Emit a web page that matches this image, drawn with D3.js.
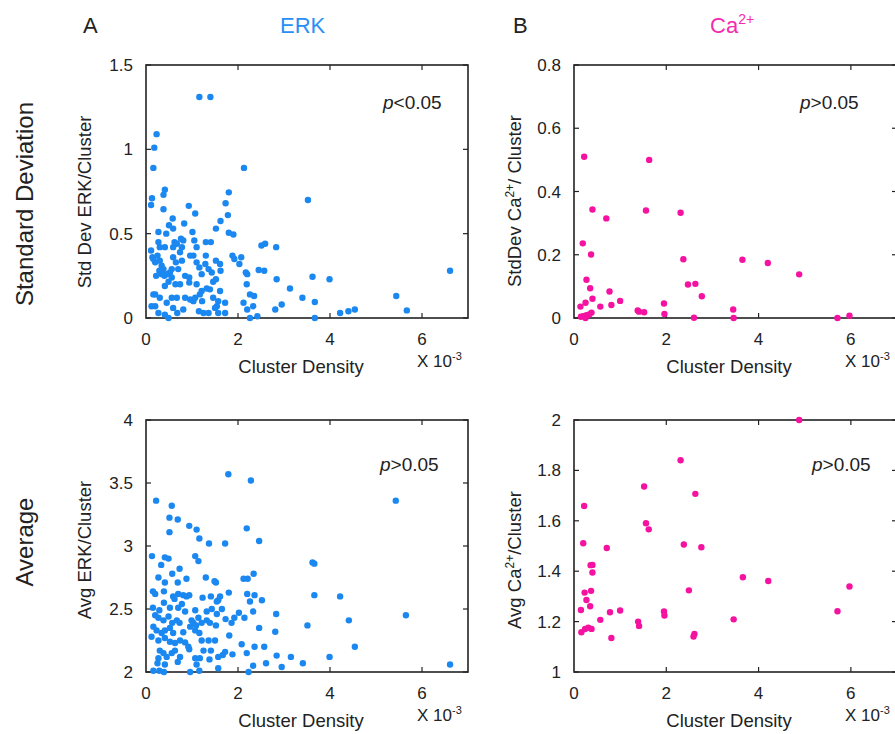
<!DOCTYPE html>
<html>
<head>
<meta charset="utf-8">
<script src="https://cdn.jsdelivr.net/npm/d3@7"></script>
<style>
  html, body { margin: 0; padding: 0; background: #fff; }
  svg { display: block; }
  text { font-family: "Liberation Sans", Arial, sans-serif; fill: #222; }
</style>
</head>
<body>
<svg id="chart" width="895" height="734"></svg>
<script>
// ---------------- DATA ----------------
const xTicks = [0, 2, 4, 6];
const erkStdTicks = [0, 0.5, 1, 1.5];
const erkAvgTicks = [2, 2.5, 3, 3.5, 4];
const caStdTicks = [0, 0.2, 0.4, 0.6, 0.8];
const caAvgTicks = [1, 1.2, 1.4, 1.6, 1.8, 2];

// ERK standard deviation per cluster (x: cluster density ×10^-3)
const erkStdX = [1.16,1.40,0.23,0.18,0.16,2.13,3.52,1.80,0.41,0.38,0.13,0.11,1.73,0.38,0.93,1.07,1.78,0.58,1.62,0.50,
  0.83,0.59,1.52,0.27,0.44,1.01,1.80,1.90,0.62,0.67,0.76,0.81,0.27,0.30,0.41,0.59,0.78,1.05,1.10,1.30,
  1.41,0.11,0.14,0.16,0.20,0.25,0.30,0.34,0.29,0.38,0.34,0.45,0.52,0.56,0.59,0.65,0.70,0.74,0.78,0.96,
  1.03,1.10,1.16,1.21,1.30,1.29,1.36,1.43,1.52,1.61,1.62,1.46,1.52,1.32,1.21,1.10,0.94,0.94,0.85,0.74,
  0.64,0.56,0.49,0.41,0.22,0.40,1.88,1.92,2.07,2.03,2.17,2.20,2.19,2.45,2.57,2.51,2.59,2.83,2.84,3.13,
  3.40,3.62,3.99,3.67,2.95,2.81,2.26,2.35,2.12,2.20,2.33,2.26,2.42,3.67,4.22,4.40,4.54,5.44,5.67,6.61,
  0.16,0.20,0.30,0.12,0.20,0.27,0.41,0.49,0.56,0.45,0.67,0.59,0.68,0.81,0.85,0.96,1.03,1.07,1.17,1.15,
  1.25,1.36,1.22,1.39,1.46,1.57,1.54,1.61,1.72,1.72,1.57,1.50];
const erkStdY = [1.31,1.31,1.09,1.01,0.89,0.89,0.70,0.745,0.76,0.73,0.71,0.67,0.68,0.645,0.665,0.62,0.61,0.59,0.575,0.55,
  0.56,0.53,0.53,0.51,0.50,0.51,0.505,0.495,0.45,0.44,0.47,0.46,0.45,0.42,0.42,0.42,0.42,0.46,0.42,0.45,
  0.45,0.40,0.36,0.35,0.33,0.37,0.34,0.31,0.28,0.29,0.26,0.26,0.27,0.29,0.36,0.33,0.29,0.39,0.34,0.37,
  0.37,0.33,0.30,0.26,0.37,0.32,0.29,0.27,0.34,0.32,0.28,0.215,0.23,0.175,0.16,0.20,0.24,0.21,0.25,0.20,
  0.20,0.24,0.215,0.19,0.25,0.25,0.37,0.35,0.36,0.32,0.27,0.26,0.20,0.285,0.28,0.43,0.44,0.42,0.23,0.175,
  0.12,0.245,0.23,0.095,0.08,0.05,0.14,0.13,0.09,0.05,0.07,0.00,0.01,0.00,0.03,0.04,0.05,0.13,0.045,0.28,
  0.14,0.14,0.12,0.07,0.07,0.03,0.02,0.00,0.12,0.09,0.12,0.06,0.03,0.05,0.12,0.11,0.10,0.12,0.14,0.04,
  0.03,0.03,0.10,0.17,0.12,0.10,0.07,0.16,0.09,0.03,0.03,0.06];

// ERK average per cluster
const erkAvgX = [1.79,2.28,0.22,5.43,0.56,0.51,0.69,2.19,0.94,1.10,0.51,1.16,2.46,1.37,1.72,0.13,1.07,0.41,0.49,1.14,
  0.33,3.62,3.66,0.73,0.57,0.27,0.88,1.30,2.34,2.12,2.21,0.41,0.69,1.49,1.52,0.15,0.20,0.39,0.59,0.70,
  0.81,0.88,0.94,1.23,1.41,1.54,1.61,1.57,1.80,2.20,2.36,2.26,2.52,3.66,4.22,0.39,0.62,0.78,0.15,0.29,
  0.52,0.70,0.85,1.07,1.32,1.43,1.65,1.54,2.02,2.14,2.33,2.83,5.65,0.20,0.27,0.38,0.49,0.57,0.67,0.73,
  0.99,1.03,1.09,1.14,1.21,1.32,1.39,1.52,1.73,1.92,1.86,4.41,0.16,0.23,0.34,0.41,0.52,0.59,0.81,0.96,
  1.07,1.16,2.46,2.81,3.51,0.12,0.27,0.41,0.52,0.63,0.74,0.85,0.92,1.21,1.36,1.50,1.81,2.08,2.36,2.57,
  4.54,0.30,0.38,0.45,0.56,0.63,0.74,0.94,1.25,1.41,1.57,1.67,1.72,1.88,2.19,2.84,3.15,3.41,3.99,0.27,
  0.25,0.41,0.69,1.07,1.17,1.38,1.10,2.33,2.61,2.95,6.61,0.16,0.29,0.39,0.96,1.16,1.57,2.23];
const erkAvgY = [3.57,3.52,3.36,3.36,3.32,3.225,3.21,3.14,3.16,3.13,3.11,3.06,3.04,3.02,3.02,2.92,2.92,2.91,2.90,2.88,
  2.85,2.87,2.86,2.82,2.78,2.75,2.74,2.75,2.78,2.74,2.74,2.71,2.71,2.72,2.71,2.64,2.62,2.64,2.60,2.62,
  2.61,2.60,2.61,2.59,2.60,2.56,2.60,2.57,2.63,2.62,2.61,2.56,2.57,2.61,2.60,2.55,2.58,2.54,2.51,2.49,
  2.51,2.51,2.48,2.49,2.48,2.50,2.50,2.46,2.47,2.43,2.48,2.46,2.45,2.45,2.43,2.41,2.44,2.39,2.41,2.39,
  2.41,2.39,2.37,2.43,2.39,2.41,2.39,2.37,2.42,2.43,2.39,2.41,2.36,2.33,2.31,2.33,2.35,2.31,2.315,2.36,
  2.33,2.31,2.35,2.32,2.37,2.28,2.25,2.27,2.24,2.23,2.25,2.235,2.20,2.25,2.25,2.25,2.29,2.22,2.20,2.20,
  2.20,2.17,2.15,2.12,2.15,2.17,2.12,2.18,2.17,2.17,2.12,2.135,2.16,2.14,2.15,2.13,2.12,2.07,2.12,2.11,
  2.07,2.06,2.08,2.11,2.11,2.10,2.06,2.05,2.07,2.04,2.06,2.01,2.01,2.00,2.00,2.01,2.03,2.00];

// Ca2+ standard deviation per cluster
const caStdX = [0.22,1.63,0.40,1.56,2.31,0.70,0.19,0.37,2.37,3.65,4.20,4.88,0.27,0.35,0.77,2.47,2.63,2.77,0.40,1.00,
  0.81,0.57,0.25,0.14,1.95,1.38,1.41,1.52,1.96,3.45,0.38,0.33,0.27,0.20,0.15,0.25,2.60,3.46,5.71,5.97];
const caStdY = [0.51,0.50,0.343,0.34,0.333,0.315,0.236,0.201,0.186,0.184,0.174,0.138,0.121,0.094,0.084,0.106,0.108,0.069,0.061,0.054,
  0.041,0.036,0.048,0.036,0.046,0.024,0.020,0.018,0.013,0.027,0.017,0.011,0.009,0.006,0.004,0.0,0.001,0.0,0.0,0.007];

// Ca2+ average per cluster
const caAvgX = [4.88,2.31,1.52,2.63,0.22,1.56,1.62,0.20,2.38,2.76,0.71,0.36,0.40,0.40,3.66,4.21,5.97,2.49,0.37,0.23,
  0.27,0.35,0.15,1.00,0.78,1.95,1.96,5.71,0.57,1.39,1.41,3.46,0.16,0.24,0.31,0.38,0.81,2.61,2.59];
const caAvgY = [2.0,1.84,1.736,1.707,1.659,1.59,1.566,1.511,1.506,1.495,1.492,1.424,1.425,1.395,1.376,1.361,1.339,1.324,1.322,1.315,
  1.286,1.261,1.246,1.244,1.237,1.24,1.224,1.241,1.207,1.20,1.183,1.209,1.158,1.171,1.176,1.171,1.135,1.151,1.141];

// ---------------- DRAW ----------------
const ERK_COLOR = "#1a88f0";
const CA_COLOR = "#f512a0";
const svg = d3.select("#chart");

const colA = [146, 468];
const colB = [574, 897];
const rowTop = [318, 65];
const rowBot = [672, 420];

const panels = [
  { xs: erkStdX, ys: erkStdY, yDom: [0, 1.5], yTicks: erkStdTicks, xr: colA, yr: rowTop, color: ERK_COLOR,
    p: "<0.05", px: 383, py: 109, ylab: ["Std Dev ERK/Cluster"], ylx: 91, yly: 202 },
  { xs: caStdX, ys: caStdY, yDom: [0, 0.8], yTicks: caStdTicks, xr: colB, yr: rowTop, color: CA_COLOR,
    p: ">0.05", px: 800, py: 109, ylab: ["StdDev Ca", "2+", "/ Cluster"], ylx: 521, yly: 201 },
  { xs: erkAvgX, ys: erkAvgY, yDom: [2, 4], yTicks: erkAvgTicks, xr: colA, yr: rowBot, color: ERK_COLOR,
    p: ">0.05", px: 380, py: 471, ylab: ["Avg ERK/Cluster"], ylx: 91, yly: 550 },
  { xs: caAvgX, ys: caAvgY, yDom: [1, 2], yTicks: caAvgTicks, xr: colB, yr: rowBot, color: CA_COLOR,
    p: ">0.05", px: 812, py: 471, ylab: ["Avg Ca", "2+", "/Cluster"], ylx: 521, yly: 560 }
];

panels.forEach(pn => {
  const x = d3.scaleLinear().domain([0, 7]).range(pn.xr);
  const y = d3.scaleLinear().domain(pn.yDom).range(pn.yr);
  const g = svg.append("g");
  const x0 = pn.xr[0], x1 = pn.xr[1], yb = pn.yr[0], yt = pn.yr[1];

  // ticks (inward, all four sides)
  const tk = g.append("g").attr("stroke", "#222").attr("stroke-width", 1.2);
  xTicks.forEach(t => {
    if (t === 0) return;
    tk.append("line").attr("x1", x(t)).attr("x2", x(t)).attr("y1", yb).attr("y2", yb - 5);
    tk.append("line").attr("x1", x(t)).attr("x2", x(t)).attr("y1", yt).attr("y2", yt + 5);
  });
  pn.yTicks.forEach(t => {
    tk.append("line").attr("x1", x0).attr("x2", x0 + 5).attr("y1", y(t)).attr("y2", y(t));
    tk.append("line").attr("x1", x1).attr("x2", x1 - 5).attr("y1", y(t)).attr("y2", y(t));
  });
  // box
  g.append("rect").attr("x", x0).attr("y", yt).attr("width", x1 - x0).attr("height", yb - yt)
    .attr("fill", "none").attr("stroke", "#222").attr("stroke-width", 1.6);

  // tick labels
  g.selectAll(".xl").data(xTicks).enter().append("text")
    .attr("x", d => x(d)).attr("y", yb + 27).attr("text-anchor", "middle")
    .attr("font-size", 17).text(d => d);
  g.selectAll(".yl").data(pn.yTicks).enter().append("text")
    .attr("x", x0 - 13).attr("y", d => y(d) + 6).attr("text-anchor", "end")
    .attr("font-size", 17).text(d => d);

  // points
  g.selectAll("circle").data(pn.xs.map((v, i) => [v, pn.ys[i]])).enter().append("circle")
    .attr("cx", d => x(d[0])).attr("cy", d => y(d[1])).attr("r", 3.2).attr("fill", pn.color);

  // p value
  const pt = g.append("text").attr("x", pn.px).attr("y", pn.py).attr("font-size", 19);
  pt.append("tspan").attr("font-style", "italic").text("p");
  pt.append("tspan").text(pn.p);

  // x-axis label
  g.append("text").attr("x", x0 + 155).attr("y", yb + 55).attr("text-anchor", "middle")
    .attr("font-size", 18.5).text("Cluster Density");
  const xe = g.append("text").attr("x", x0 + 271).attr("y", yb + 49).attr("font-size", 17);
  xe.append("tspan").text("X 10");
  xe.append("tspan").attr("font-size", 11).attr("dy", -7).text("-3");

  // y-axis label
  const yl = g.append("text").attr("transform", `translate(${pn.ylx},${pn.yly}) rotate(-90)`)
    .attr("text-anchor", "middle").attr("font-size", 18.5);
  if (pn.ylab.length === 1) {
    yl.text(pn.ylab[0]);
  } else {
    yl.append("tspan").text(pn.ylab[0]);
    yl.append("tspan").attr("font-size", 12).attr("dy", -7).text(pn.ylab[1]);
    yl.append("tspan").attr("dy", 7).text(pn.ylab[2]);
  }
});

// headers
svg.append("text").attr("x", 83).attr("y", 33).attr("font-size", 22).text("A");
svg.append("text").attr("x", 280).attr("y", 33).attr("font-size", 22).style("fill", "#2a8ff5").text("ERK");
svg.append("text").attr("x", 513).attr("y", 33).attr("font-size", 22).text("B");
const ca = svg.append("text").attr("x", 710).attr("y", 33).attr("font-size", 22).style("fill", "#f52ab0");
ca.append("tspan").text("Ca");
ca.append("tspan").attr("font-size", 14).attr("dy", -9).text("2+");

// row labels
svg.append("text").attr("transform", "translate(33,204) rotate(-90)").attr("text-anchor", "middle")
  .attr("font-size", 24).text("Standard Deviation");
svg.append("text").attr("transform", "translate(33,542) rotate(-90)").attr("text-anchor", "middle")
  .attr("font-size", 24).text("Average");
</script>
</body>
</html>
